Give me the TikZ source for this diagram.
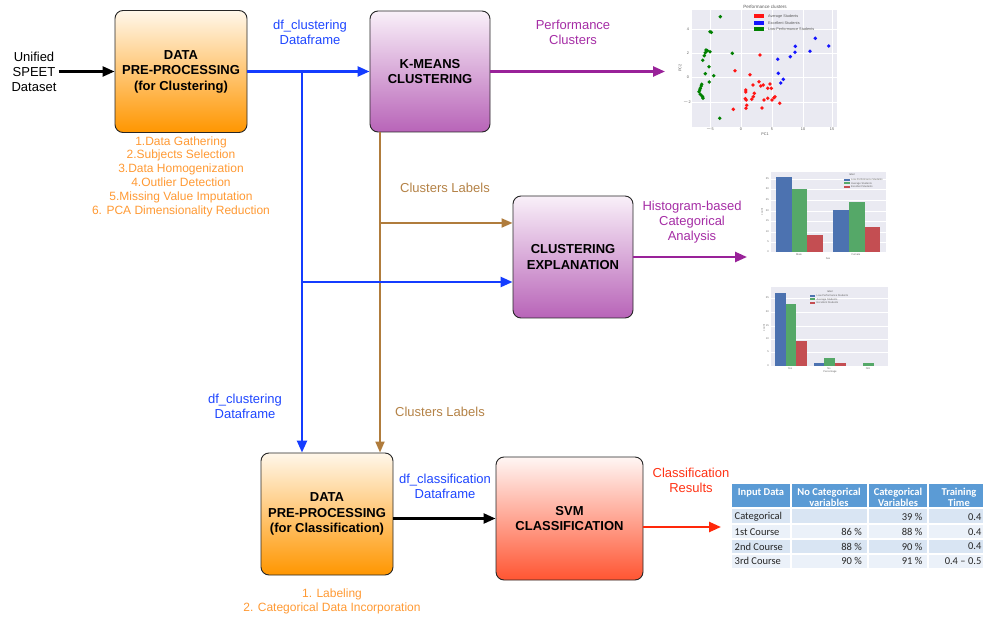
\documentclass[tikz,border=0pt]{standalone}
\usepackage{fontspec}
\setmainfont{Liberation Sans}
\newfontfamily\calfont{Carlito}
\usetikzlibrary{arrows.meta}
\definecolor{cblue}{RGB}{20,60,255}
\definecolor{cpurp}{RGB}{153,34,153}
\definecolor{cbrown}{RGB}{176,124,60}
\definecolor{cred}{RGB}{255,40,10}
\definecolor{corange}{RGB}{255,153,51}
\definecolor{ctxtblue}{RGB}{30,70,255}
\definecolor{ctxtpurp}{RGB}{165,45,165}
\definecolor{ctxtbrown}{RGB}{180,130,70}
\definecolor{ctxtred}{RGB}{255,50,20}
\definecolor{ortop}{RGB}{255,247,234}
\definecolor{orbot}{RGB}{255,150,0}
\definecolor{putop}{RGB}{249,240,249}
\definecolor{pubot}{RGB}{184,100,184}
\definecolor{rdtop}{RGB}{255,246,244}
\definecolor{rdbot}{RGB}{255,85,50}
\definecolor{sbg}{RGB}{234,234,242}
\definecolor{sblue}{RGB}{76,114,176}
\definecolor{sgreen}{RGB}{85,168,104}
\definecolor{sred}{RGB}{196,78,82}
\definecolor{pred}{RGB}{255,20,20}
\definecolor{pblue}{RGB}{20,20,255}
\definecolor{pgreen}{RGB}{0,128,0}
\definecolor{thead}{RGB}{91,155,213}
\definecolor{trowA}{RGB}{217,229,243}
\definecolor{trowB}{RGB}{235,241,249}
\begin{document}
\begin{tikzpicture}[x=1pt,y=-1pt,
  box/.style={draw=black!85, line width=0.9pt, rounded corners=8pt, align=center,
    font=\bfseries\fontsize{13}{15.5}\selectfont, inner sep=0pt},
  orbox/.style={box, top color=ortop, bottom color=orbot, minimum width=132pt, minimum height=122pt},
  pubox/.style={box, top color=putop, bottom color=pubot, minimum width=120pt, minimum height=121pt},
  rdbox/.style={box, top color=rdtop, bottom color=rdbot, minimum width=147pt, minimum height=123pt},
  lbl/.style={align=center, font=\fontsize{13}{15}\selectfont, inner sep=0pt},
  steps/.style={align=center, font=\fontsize{12}{13.8}\selectfont, inner sep=0pt, text=corange},
  arr/.style={line width=2.4pt, -{Triangle[length=12pt,width=10pt]}},
  brarr/.style={line width=2pt, draw=cbrown, -{Triangle[length=11pt,width=9pt]}},
  tiny/.style={inner sep=0pt, font=\fontsize{2.6}{3}\selectfont, text=black!60},
  small/.style={inner sep=0pt, font=\fontsize{3.8}{4.2}\selectfont, text=black!65},
  grid/.style={white, line width=0.6pt},
  th/.style={inner sep=0pt, align=center, text=white, font=\calfont\bfseries\fontsize{10.5}{11.5}\selectfont},
  tc/.style={inner sep=0pt, font=\calfont\fontsize{10.5}{12}\selectfont, text=black!85},
]
\path[use as bounding box] (0,0) rectangle (983,617);
\clip (0,0) rectangle (983,617);

% ---------- boxes ----------
\node[orbox] (box1) at (181,71.5) {DATA\\PRE-PROCESSING\\(for Clustering)};
\node[pubox] (box2) at (430,71.5) {K-MEANS\\CLUSTERING};
\node[pubox, minimum height=122pt] (box3) at (573,257) {CLUSTERING\\EXPLANATION};
\node[orbox] (box4) at (327,514) {DATA\\PRE-PROCESSING\\(for Classification)};
\node[rdbox] (box5) at (569.5,518.5) {SVM\\CLASSIFICATION};

% ---------- texts ----------
\node[lbl] (in) at (34,71.5) {Unified\\SPEET\\Dataset};
\node[lbl, text=ctxtblue] (lab1) at (310,32) {df\_clustering\\Dataframe};
\node[lbl, text=ctxtpurp] (lab2) at (573,32) {Performance\\Clusters};
\node[lbl, text=ctxtbrown] (lab3) at (445,188) {Clusters Labels};
\node[lbl, text=ctxtpurp] (lab4) at (692,222.5) {Histogram-based\\Categorical\\Analysis};
\node[lbl, text=ctxtblue] (lab5) at (245,406.5) {df\_clustering\\Dataframe};
\node[lbl, text=ctxtbrown] (lab6) at (440,412) {Clusters Labels};
\node[lbl, text=ctxtblue] (lab7) at (445,486.5) {df\_classification\\Dataframe};
\node[lbl, text=ctxtred] (lab8) at (691,480) {Classification\\Results};
\node[steps] (st1) at (181,176.5) {1.Data Gathering\\2.Subjects Selection\\3.Data Homogenization\\4.Outlier Detection\\5.Missing Value Imputation\\6. PCA Dimensionality Reduction};
\node[steps] (st2) at (332,601) {1. Labeling\\2. Categorical Data Incorporation};

% ---------- connectors ----------
\draw[arr] ([xshift=2pt]in.east) -- (box1.west);
\path (box2.south) ++(-50,0) coordinate (b1);
\coordinate (b2) at (380,223);
\draw[brarr] (b1) -- (b1 |- box4.north);
\draw[brarr] (b2) -- (b2 -| box3.west);
\coordinate (j1) at (302,71.5);
\coordinate (j2) at (302,282);
\draw[arr, cblue] (box1.east) -- (box2.west);
\draw[arr, cblue] (j1) -- (j1 |- box4.north);
\draw[arr, cblue] (j2) -- (j2 -| box3.west);
\coordinate (sc) at (665,71.5);
\draw[arr, cpurp] (box2.east) -- (sc);
\coordinate (hg) at (747,257);
\draw[arr, cpurp] (box3.east) -- (hg);
\draw[arr] (box4.east |- box5.west) -- (box5.west);
\coordinate (tb) at (721,527);
\draw[arr, cred] (box5.east |- tb) -- (tb);

% ---------- scatter plot ----------
\fill[sbg] (692,10) rectangle (837,127);
\foreach \x in {710,741,772,803,832} \draw[grid] (\x,10) -- (\x,127);
\foreach \y in {29,53,77,102} \draw[grid] (692,\y) -- (837,\y);
\node[small, font=\fontsize{4.6}{5}\selectfont] (sctitle) at (765,6.5) {Performance clusters};
\node[small] (sy1) at (688,29) {4};
\node[small] (sy2) at (688,53) {2};
\node[small] (sy3) at (688,77) {0};
\node[small] (sy4) at (687,102) {$-$2};
\node[small] (sx1) at (710,129) {$-$5};
\node[small] (sx2) at (741,129) {0};
\node[small] (sx3) at (772,129) {5};
\node[small] (sx4) at (803,129) {10};
\node[small] (sx5) at (832,129) {15};
\node[small] (spc1) at (765,134.5) {PC1};
\node[small, rotate=90] (spc2) at (680,68) {PC2};
\fill[pred] (754.3,14.3) rectangle (764.3,18.3);
\fill[pblue] (754.3,20.7) rectangle (764.3,24.7);
\fill[pgreen] (754.3,27) rectangle (764.3,31);
\node[small, anchor=west] (sl1) at (768,16.3) {Average Students};
\node[small, anchor=west] (sl2) at (768,22.7) {Excellent Students};
\node[small, anchor=west] (sl3) at (768,29) {Low-Performance Students};
\foreach \x/\y in {720.3/16.7,710/31.7,711.3/32.3,732.3/53.3,706/50,707.3/50.7,705.3/52.7,710/51.7,704.3/55.7,702.7/60.3,709/66.7,705.3/73.7,713.7/75.7,709.3/82,701.7/84.3,701.3/86,700.3/88.3,699.7/90,699/91.7,700.3/94.3,701.7/95.7,702.7/97,703/98.3,719.7/118.3}
  \fill[pgreen] (\x,\y) circle (1.9pt);
\foreach \x/\y in {760/55,735/70.7,750/74.7,759/81.7,763.3/85,760.7/86,770/84,767.7/88.3,771.3/88.3,753/85,745.7/90,745.7/92,745.3/98.7,746.3/100,751.7/99.3,753.3/96.7,754.3/93.3,764/100,767.7/98.3,772/100,775/96.7,774/97.7,779.7/103.3,762/108,733.3/109.3,746.7/105.3,746/108.3}
  \fill[pred] (\x,\y) circle (1.9pt);
\foreach \x/\y in {777.7/59.3,778.3/73.3,783.3/79.3,780.7/83,790.3/56.7,795/52.3,795.3/46.3,810/51.3,815.3/38.3,828.7/46}
  \fill[pblue] (\x,\y) circle (1.9pt);

% ---------- histogram 1 ----------
\fill[sbg] (771,172) rectangle (886,252);
\foreach \y in {179,189,200,211,221,232,242} \draw[grid] (771,\y) -- (886,\y);
\fill[sblue] (776,177) rectangle (792,252);
\fill[sgreen] (792,189) rectangle (807,252);
\fill[sred] (807,235) rectangle (823,252);
\fill[sblue] (833,210) rectangle (849,252);
\fill[sgreen] (849,202) rectangle (865,252);
\fill[sred] (865,227) rectangle (880,252);
\node[tiny] (h1t) at (852,175) {label};
\fill[sblue] (844,179) rectangle (850,181);
\fill[sgreen] (844,182.5) rectangle (850,184.5);
\fill[sred] (844,186) rectangle (850,188);
\node[tiny, anchor=west] (h1l1) at (851,180) {Low-Performance Students};
\node[tiny, anchor=west] (h1l2) at (851,183.5) {Average Students};
\node[tiny, anchor=west] (h1l3) at (851,187) {Excellent Students};
\foreach \y/\t in {252/0,242/5,232/10,221/15,211/20,200/25,189/30,179/35} \node[tiny, anchor=east] at (769,\y) {\t};
\node[tiny] (h1x1) at (799,255) {Male};
\node[tiny] (h1x2) at (856,255) {Female};
\node[tiny] (h1xl) at (828,258.5) {Sex};
\node[tiny, rotate=90] (h1yl) at (762,212) {count};

% ---------- histogram 2 ----------
\fill[sbg] (771,287) rectangle (888,366);
\foreach \y in {298,312,326,339,352} \draw[grid] (771,\y) -- (888,\y);
\fill[sblue] (775,293) rectangle (786,366);
\fill[sgreen] (786,304) rectangle (796,366);
\fill[sred] (796,341) rectangle (807,366);
\fill[sblue] (814,363) rectangle (824,366);
\fill[sgreen] (824,358) rectangle (835,366);
\fill[sred] (835,363) rectangle (846,366);
\fill[sgreen] (863,363) rectangle (874,366);
\node[tiny] (h2t) at (830,292) {label};
\fill[sblue] (810,295) rectangle (815,297);
\fill[sgreen] (810,298.5) rectangle (815,300.5);
\fill[sred] (810,302) rectangle (815,304);
\node[tiny, anchor=west] (h2l1) at (816.5,296) {Low-Performance Students};
\node[tiny, anchor=west] (h2l2) at (816.5,299.5) {Average Students};
\node[tiny, anchor=west] (h2l3) at (816.5,303) {Excellent Students};
\foreach \y/\t in {366/0,352/5,339/10,326/15,312/20,298/25} \node[tiny, anchor=east] at (769,\y) {\t};
\node[tiny] (h2x1) at (790,368.5) {Yes};
\node[tiny] (h2x2) at (829,368.5) {No};
\node[tiny] (h2x3) at (868,368.5) {N/A};
\node[tiny] (h2xl) at (830,372) {Percentage};
\node[tiny, rotate=90] (h2yl) at (764,328) {count};

% ---------- table ----------
\fill[thead] (732,484) rectangle (995,508);
\fill[trowA] (732,508) rectangle (995,524);
\fill[trowB] (732,524) rectangle (995,539);
\fill[trowA] (732,539) rectangle (995,554);
\fill[trowB] (732,554) rectangle (995,568);
\draw[white, line width=1.2pt] (791,484) -- (791,568) (868,484) -- (868,568) (928,484) -- (928,568)
  (732,508) -- (995,508) (732,524) -- (995,524) (732,539) -- (995,539) (732,554) -- (995,554);
\node[th] (t11) at (761,493) {Input Data};
\node[th] (t12) at (829,497.5) {No Categorical\\variables};
\node[th] (t13) at (898,497.5) {Categorical\\Variables};
\node[th] (t14) at (959,497.5) {Training\\Time};
\node[tc, anchor=west] (t21) at (734.5,517) {Categorical};
\node[tc, anchor=west] (t31) at (734.5,532) {1st Course};
\node[tc, anchor=west] (t41) at (734.5,546.5) {2nd Course};
\node[tc, anchor=west] (t51) at (734.5,561) {3rd Course};
\node[tc, anchor=east] (t32) at (862,532) {86 \%};
\node[tc, anchor=east] (t42) at (862,546.5) {88 \%};
\node[tc, anchor=east] (t52) at (862,561) {90 \%};
\node[tc, anchor=east] (t23) at (922.5,517) {39 \%};
\node[tc, anchor=east] (t33) at (922.5,532) {88 \%};
\node[tc, anchor=east] (t43) at (922.5,546.5) {90 \%};
\node[tc, anchor=east] (t53) at (922.5,561) {91 \%};
\node[tc, anchor=east] (t24) at (988,517) {0.4 s};
\node[tc, anchor=east] (t34) at (988,532) {0.4 s};
\node[tc, anchor=east] (t44) at (988,546.5) {0.4 s};
\node[tc, anchor=east] (t54) at (988,561) {0.4 – 0.5 s};
\end{tikzpicture}
\end{document}
